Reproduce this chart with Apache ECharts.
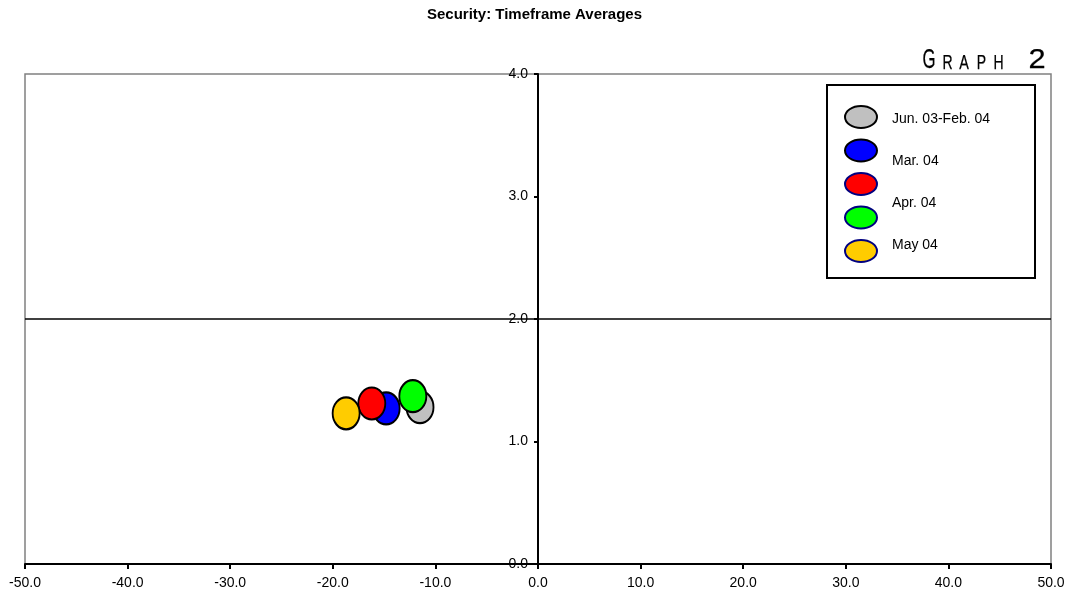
<!DOCTYPE html>
<html>
<head>
<meta charset="utf-8">
<script src="https://cdn.jsdelivr.net/npm/echarts@6/dist/echarts.min.js"></script>
<style>html,body{margin:0;padding:0;background:#fff}#c{width:1069px;height:601px}</style>
</head>
<body>
<div id="c"></div>
<script>
var pointNames = ['Jun. 03-Feb. 04', 'Mar. 04', 'Apr. 04 (red)', 'Apr. 04', 'May 04'];
var legendLabels = ['Jun. 03-Feb. 04', 'Mar. 04', 'Apr. 04', 'May 04'];
var xValues = [-11.5, -14.8, -16.2, -12.2, -18.7];
var yValues = [1.28, 1.27, 1.31, 1.37, 1.23];
var colors = ['#c0c0c0', '#0000ff', '#ff0000', '#00ff00', '#ffcc00'];
var legendBorders = ['#000000', '#000000', '#000080', '#000080', '#000080'];
var crossY = 2.0;

var ellipse = 'path://M0,-1A1,1,0,1,1,0,1A1,1,0,1,1,0,-1Z';
var font = 'Liberation Sans, Arial, sans-serif';

var series = pointNames.map(function (n, i) {
  var s = {
    name: n,
    type: 'scatter',
    symbol: ellipse,
    symbolSize: [27, 32],
    data: [[xValues[i], yValues[i]]],
    itemStyle: { color: colors[i], borderColor: '#000', borderWidth: 2, opacity: 1 },
    emphasis: { disabled: true },
    z: 3 + i
  };
  if (i === 0) {
    s.markLine = {
      silent: true, symbol: 'none', animation: false,
      label: { show: false },
      lineStyle: { color: '#000', width: 1.5, type: 'solid' },
      data: [{ yAxis: crossY }]
    };
  }
  return s;
});

var iconLegendData = pointNames.map(function (n, i) {
  return { name: n, icon: ellipse, itemStyle: { color: colors[i], borderColor: legendBorders[i], borderWidth: 2 } };
});

function letter(ch, cx, cy, size, sx) {
  return {
    type: 'text', x: cx, y: cy, scaleX: sx, scaleY: 1, z: 10,
    style: { text: ch, font: size + 'px "Liberation Sans", Arial, sans-serif', fill: '#000', stroke: '#000', lineWidth: 0.25, align: 'center', verticalAlign: 'middle' }
  };
}

var chart = echarts.init(document.getElementById('c'), null, { renderer: 'canvas' });
chart.setOption({
  animation: false,
  backgroundColor: '#fff',
  title: {
    text: 'Security: Timeframe Averages',
    left: 'center', top: 2,
    textStyle: { fontFamily: font, fontSize: 15, fontWeight: 'bold', color: '#000' }
  },
  legend: [
    {
      orient: 'vertical',
      left: 827, top: 85,
      padding: [20, 157, 15, 17],
      borderColor: '#000', borderWidth: 2,
      backgroundColor: '#fff',
      itemWidth: 32, itemHeight: 22, itemGap: 9.5,
      symbolKeepAspect: false,
      selectedMode: false,
      formatter: function () { return ''; },
      textStyle: { fontSize: 1 },
      data: iconLegendData,
      z: 4
    },
    {
      orient: 'vertical',
      left: 885, top: 111,
      padding: 0,
      itemWidth: 1, itemHeight: 14, itemGap: 26,
      icon: 'rect',
      itemStyle: { opacity: 0 },
      selectedMode: false,
      textStyle: { fontFamily: font, fontSize: 14, lineHeight: 14, color: '#000' },
      data: legendLabels,
      z: 5
    }
  ],
  grid: { left: 25, right: 18, top: 74, bottom: 37, show: true, borderColor: '#808080', borderWidth: 1.5, backgroundColor: 'transparent' },
  xAxis: {
    type: 'value', min: -50, max: 50, interval: 10,
    axisLine: { show: true, onZero: false, lineStyle: { color: '#000', width: 2 } },
    axisTick: { show: true, inside: false, length: 5, lineStyle: { color: '#000', width: 2 } },
    axisLabel: { color: '#000', fontFamily: font, fontSize: 14, margin: 12, formatter: function (v) { return v.toFixed(1); } },
    splitLine: { show: false }
  },
  yAxis: {
    type: 'value', min: 0, max: 4, interval: 1,
    axisLine: { show: true, onZero: true, lineStyle: { color: '#000', width: 2 } },
    axisTick: { show: true, inside: false, length: 4, lineStyle: { color: '#000', width: 2 } },
    axisLabel: { color: '#000', fontFamily: font, fontSize: 14, margin: -503, formatter: function (v) { return v.toFixed(1); } },
    splitLine: { show: false }
  },
  graphic: [
    letter('G', 929, 60, 28, 0.6),
    letter('R', 947.5, 63, 20, 0.7),
    letter('A', 964, 63, 20, 0.72),
    letter('P', 981.5, 63, 20, 0.7),
    letter('H', 998.5, 63, 20, 0.7),
    letter('2', 1037, 60, 28, 1.1)
  ],
  series: series
});
</script>
</body>
</html>
